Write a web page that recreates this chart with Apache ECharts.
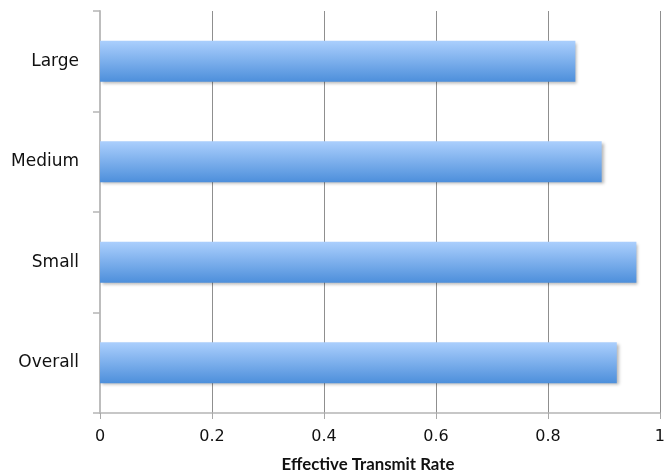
<!DOCTYPE html>
<html>
<head>
<meta charset="utf-8">
<script src="https://cdn.jsdelivr.net/npm/echarts@6/dist/echarts.min.js"></script>
<style>
  html, body { margin: 0; padding: 0; background: #fff; }
  #chart { width: 668px; height: 471px; }
</style>
</head>
<body>
<div id="chart"></div>
<script>
// Effective transmit rate by group, listed bottom-to-top
const categories = ['Overall', 'Small', 'Medium', 'Large'];
const transmitRate = [0.923, 0.958, 0.896, 0.849];
const xTicks = { min: 0, max: 1, interval: 0.2 };
const axisTitle = 'Effective Transmit Rate';

const chart = echarts.init(document.getElementById('chart'));

chart.setOption({
  animation: false,
  backgroundColor: '#ffffff',
  grid: { left: 100, right: 7, top: 11, bottom: 58, containLabel: false },
  title: {
    text: axisTitle,
    left: 363,
    top: 451,
    textAlign: 'center',
    textStyle: { fontFamily: 'Lato', fontWeight: 'bold', fontSize: 16.8, color: '#111' }
  },
  xAxis: {
    type: 'value',
    min: xTicks.min,
    max: xTicks.max,
    interval: xTicks.interval,
    axisLine: { show: true, lineStyle: { color: '#b5b5b5', width: 1.5 } },
    axisTick: { show: true, length: 6, lineStyle: { color: '#a8a8a8' } },
    splitLine: { show: true, lineStyle: { color: '#8f8f8f', width: 1 } },
    axisLabel: {
      margin: 16,
      fontFamily: 'DejaVu Sans',
      fontSize: 16,
      color: '#111',
      formatter: v => String(Math.round(v * 10) / 10)
    }
  },
  yAxis: {
    type: 'category',
    data: categories,
    axisLine: { show: true, lineStyle: { color: '#bdbdbd', width: 2 } },
    axisTick: { show: true, length: 7, lineStyle: { color: '#b5b5b5', width: 1.5 } },
    splitLine: { show: false },
    axisLabel: {
      margin: 21,
      fontFamily: 'DejaVu Sans',
      fontSize: 17,
      color: '#111'
    }
  },
  series: [{
    type: 'bar',
    data: transmitRate,
    barWidth: 41,
    itemStyle: {
      color: new echarts.graphic.LinearGradient(0, 0, 0, 1, [
        { offset: 0, color: '#abcffd' },
        { offset: 1, color: '#4d8fdb' }
      ]),
      shadowColor: 'rgba(0,0,0,0.28)',
      shadowBlur: 3,
      shadowOffsetX: 2,
      shadowOffsetY: 2
    }
  }]
});
</script>
</body>
</html>
